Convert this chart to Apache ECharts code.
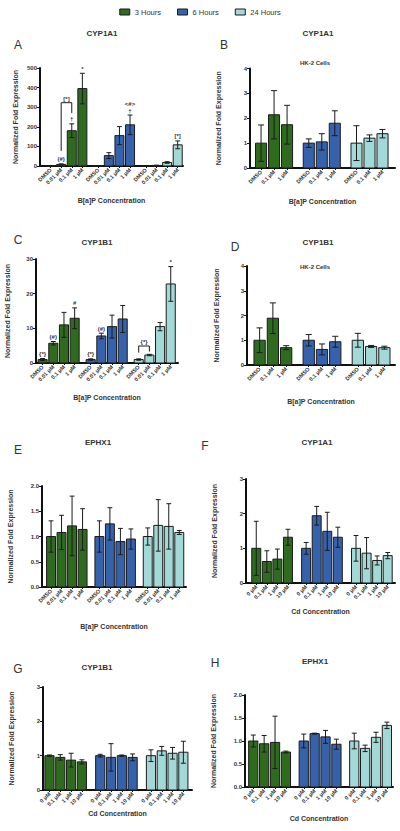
<!DOCTYPE html>
<html><head><meta charset="utf-8">
<script src="https://cdn.jsdelivr.net/npm/echarts@6/dist/echarts.min.js"></script>
<style>html,body{margin:0;padding:0;background:#fff}#c{width:400px;height:831px}</style>
</head><body><div id="c"></div>
<script>
// ---------- DATA ----------
const groups = ['3 Hours', '6 Hours', '24 Hours'];
const bapLabels4 = ['DMSO', '0.01 μM', '0.1 μM', '1 μM'];
const bapLabels3 = ['DMSO', '0.1 μM', '1 μM'];
const cdLabels = ['0 μM', '0.1 μM', '1 μM', '10 μM'];

// Panel A: CYP1A1, B[a]P
const A_mean = [[1, 8, 180, 395], [1, 53, 155, 210], [1, 3, 18, 108]];
const A_sd   = [[0.5, 3, 35, 78], [0.5, 15, 46, 50], [0.5, 1, 4, 20]];
const A_notes = [['', '(#)', '†', '*'], ['', '', '', '<#>\n†'], ['', '', '', '[*]']];
// Panel B: CYP1A1, HK-2
const B_mean = [[1.0, 2.14, 1.74], [1.0, 1.05, 1.8], [1.0, 1.2, 1.38]];
const B_sd   = [[0.73, 0.97, 0.78], [0.17, 0.33, 0.5], [0.7, 0.13, 0.17]];
// Panel C: CYP1B1, B[a]P
const C_mean = [[1, 5.7, 11.0, 12.9], [1, 7.8, 10.5, 12.7], [1, 2.3, 10.5, 22.8]];
const C_sd   = [[0.3, 0.5, 3.6, 3.0], [0.2, 0.8, 3.3, 3.9], [0.2, 0.2, 1.2, 5.0]];
const C_notes = [['{*}', '(#)', '', '#'], ['{*}', '(#)', '', ''], ['', '', '', '*']];
// Panel D: CYP1B1, HK-2
const D_mean = [[1.0, 1.89, 0.7], [1.0, 0.63, 0.94], [1.0, 0.75, 0.7]];
const D_sd   = [[0.5, 0.62, 0.08], [0.23, 0.22, 0.22], [0.28, 0.04, 0.06]];
// Panel E: EPHX1, B[a]P
const E_mean = [[1.0, 1.08, 1.21, 1.14], [1.0, 1.25, 0.9, 0.95], [1.0, 1.22, 1.2, 1.08]];
const E_sd   = [[0.31, 0.34, 0.59, 0.41], [0.31, 0.32, 0.26, 0.2], [0.17, 0.51, 0.45, 0.04]];
// Panel F: CYP1A1, Cd
const F_mean = [[1.0, 0.62, 0.69, 1.32], [1.0, 1.94, 1.49, 1.32], [1.0, 0.86, 0.65, 0.79]];
const F_sd   = [[0.78, 0.31, 0.29, 0.23], [0.17, 0.27, 0.55, 0.29], [0.37, 0.45, 0.13, 0.09]];
// Panel G: CYP1B1, Cd
const G_mean = [[1.0, 0.95, 0.87, 0.82], [1.0, 0.95, 1.0, 0.95], [1.0, 1.14, 1.07, 1.1]];
const G_sd   = [[0.02, 0.08, 0.2, 0.06], [0.04, 0.4, 0.02, 0.1], [0.17, 0.13, 0.17, 0.32]];
// Panel H: EPHX1, Cd
const H_mean = [[1.0, 0.94, 0.97, 0.76], [1.0, 1.16, 1.09, 0.93], [1.0, 0.84, 1.08, 1.34]];
const H_sd   = [[0.13, 0.18, 0.57, 0.02], [0.15, 0.01, 0.14, 0.11], [0.17, 0.07, 0.11, 0.07]];

// significance brackets: [group, fromIdx, toIdx, top, leftBottom, rightBottom, label]
const A_brackets = [[0, 1, 2, 323, 77, 270, '[*]']];
const C_brackets = [[2, 0, 1, 4.9, 3.0, 3.3, '{*}']];

// ---------- STYLE / LAYOUT ----------
const colors = ['#2f6b1f', '#3662ab', '#a2d9d6'];
const FONT = 'Liberation Sans, Arial, sans-serif';
const TXT = '#333333';
const yName = 'Normalized Fold Expression';
const bapName = 'B[a]P Concentration';
const cdName = 'Cd Concentration';

const panels = [
  {mean: A_mean, sd: A_sd, notes: A_notes, br: A_brackets, labels: bapLabels4, xName: bapName, ymax: 500, yint: 100, dec: 0,
   grid: {left: 40, top: 68, width: 143, height: 98}, off: 1, stride: 4.5, xmax: 13.5, yGap: 21, xGap: 31},
  {mean: B_mean, sd: B_sd, labels: bapLabels3, xName: bapName, ymax: 4, yint: 1, dec: 0,
   grid: {left: 250, top: 68.5, width: 145, height: 99.5}, off: 0.85, stride: 3.67, xmax: 11.15, yGap: 28, xGap: 30},
  {mean: C_mean, sd: C_sd, notes: C_notes, br: C_brackets, labels: bapLabels4, xName: bapName, ymax: 30, yint: 10, dec: 0,
   grid: {left: 36, top: 259, width: 142, height: 104}, off: 0.62, stride: 4.5, xmax: 13.3, yGap: 25, xGap: 31},
  {mean: D_mean, sd: D_sd, labels: bapLabels3, xName: bapName, ymax: 4, yint: 1, dec: 0,
   grid: {left: 247, top: 266, width: 148, height: 99}, off: 0.95, stride: 3.7, xmax: 11.15, yGap: 27, xGap: 33},
  {mean: E_mean, sd: E_sd, labels: bapLabels4, xName: bapName, ymax: 2, yint: 0.5, dec: 1,
   grid: {left: 42, top: 486, width: 144, height: 101}, off: 0.86, stride: 4.6, xmax: 13.7, yGap: 28, xGap: 36},
  {mean: F_mean, sd: F_sd, labels: cdLabels, xName: cdName, ymax: 3, yint: 1, dec: 0,
   grid: {left: 246, top: 479, width: 149, height: 104}, off: 0.97, stride: 4.72, xmax: 14.1, yGap: 28, xGap: 25},
  {mean: G_mean, sd: G_sd, labels: cdLabels, xName: cdName, ymax: 3, yint: 1, dec: 0,
   grid: {left: 43, top: 687, width: 149, height: 103}, off: 0.6, stride: 4.7, xmax: 13.8, yGap: 28, xGap: 20},
  {mean: H_mean, sd: H_sd, labels: cdLabels, xName: cdName, ymax: 2, yint: 0.5, dec: 1,
   grid: {left: 245, top: 695, width: 148, height: 92}, off: 0.76, stride: 4.64, xmax: 13.6, yGap: 28, xGap: 28}
];

const titles = [
  ['CYP1A1', 102, 33], ['CYP1A1', 318, 33], ['CYP1B1', 97, 242], ['CYP1B1', 318, 242],
  ['EPHX1', 98, 442], ['CYP1A1', 317, 442], ['CYP1B1', 97, 667], ['EPHX1', 315, 661]
];
const letters = [['A', 18, 45], ['B', 224, 45], ['C', 18, 240], ['D', 235, 247],
  ['E', 18, 450], ['F', 205, 446], ['G', 18, 669], ['H', 215, 663]];
const subs = [['HK-2 Cells', 315, 63], ['HK-2 Cells', 315, 267]];

const BARW = 0.85;
function pos(p, g, i) { return p.off + g * p.stride + i; }

function makeRender(p, g) {
  return function (params, api) {
    const x = api.value(0), m = api.value(1), s = api.value(2);
    const a = api.coord([x - BARW / 2, 0]);
    const b = api.coord([x + BARW / 2, m]);
    const t = api.coord([x, m + s]);
    const lo = api.coord([x, Math.max(0, m - s)]);
    const cx = api.coord([x, 0])[0];
    const cap = (b[0] - a[0]) * 0.27;
    const ls = {stroke: '#1b1b1b', lineWidth: 1};
    const ch = [
      {type: 'rect', shape: {x: a[0], y: b[1], width: b[0] - a[0], height: a[1] - b[1]},
       style: {fill: colors[g], stroke: '#1b1b1b', lineWidth: 1}},
      {type: 'line', shape: {x1: cx, y1: t[1], x2: cx, y2: lo[1]}, style: ls},
      {type: 'line', shape: {x1: cx - cap, y1: t[1], x2: cx + cap, y2: t[1]}, style: ls},
      {type: 'line', shape: {x1: cx - cap, y1: lo[1], x2: cx + cap, y2: lo[1]}, style: ls}
    ];
    const note = p.notes ? p.notes[g][params.dataIndex] : '';
    if (note) {
      ch.push({type: 'text', x: cx, y: t[1] - 1,
        style: {text: note, align: 'center', verticalAlign: 'bottom', fontSize: 6, lineHeight: 7,
          fontFamily: FONT, fontWeight: 'bold', fill: TXT}});
    }
    return {type: 'group', children: ch};
  };
}

function makeBracket(p) {
  return function (params, api) {
    const br = p.br[params.dataIndex];
    const x1 = pos(p, br[0], br[1]), x2 = pos(p, br[0], br[2]);
    const a = api.coord([x1, br[4]]), b = api.coord([x1, br[3]]);
    const c = api.coord([x2, br[3]]), d = api.coord([x2, br[5]]);
    return {type: 'group', children: [
      {type: 'polyline', shape: {points: [a, b, c, d]}, style: {stroke: '#1b1b1b', lineWidth: 1, fill: null}},
      {type: 'text', x: (b[0] + c[0]) / 2, y: b[1] - 1,
       style: {text: br[6], align: 'center', verticalAlign: 'bottom', fontSize: 6,
         fontFamily: FONT, fontWeight: 'bold', fill: TXT}}
    ]};
  };
}

const grid = [], xAxis = [], yAxis = [], series = [];
panels.forEach((p, k) => {
  grid.push(Object.assign({containLabel: false, outerBoundsMode: 'none'}, p.grid));
  const ticks = [], labelMap = {};
  for (let g = 0; g < 3; g++) p.labels.forEach((l, i) => {
    const v = pos(p, g, i); ticks.push(v); labelMap[v.toFixed(3)] = l;
  });
  xAxis.push({type: 'value', gridIndex: k, min: 0, max: p.xmax,
    axisLine: {show: true, onZero: false, lineStyle: {color: '#111', width: 2}},
    axisTick: {show: true, customValues: ticks, length: 2, lineStyle: {color: '#111', width: 1}},
    splitLine: {show: false},
    axisLabel: {customValues: ticks, rotate: 45, margin: 3, fontSize: 5.5, fontWeight: 'bold',
      fontFamily: FONT, color: TXT, formatter: v => labelMap[Number(v).toFixed(3)] || ''},
    name: p.xName, nameLocation: 'middle', nameGap: p.xGap,
    nameTextStyle: {fontSize: 7, fontWeight: 'bold', fontFamily: FONT, color: TXT}});
  yAxis.push({type: 'value', gridIndex: k, min: 0, max: p.ymax, interval: p.yint,
    axisLine: {show: true, lineStyle: {color: '#111', width: 2}},
    axisTick: {show: true, length: 3, lineStyle: {color: '#111', width: 1}},
    splitLine: {show: false},
    axisLabel: {fontSize: 6, margin: 3, fontWeight: 'bold', fontFamily: FONT, color: TXT,
      formatter: v => Number(v).toFixed(p.dec)},
    name: yName, nameLocation: 'middle', nameGap: p.yGap,
    nameTextStyle: {fontSize: 7, fontWeight: 'bold', fontFamily: FONT, color: TXT}});
  for (let g = 0; g < 3; g++) {
    series.push({type: 'custom', name: groups[g], xAxisIndex: k, yAxisIndex: k, silent: true,
      itemStyle: {color: colors[g], borderColor: '#1b1b1b', borderWidth: 1},
      encode: {x: 0, y: 1},
      data: p.mean[g].map((m, i) => [pos(p, g, i), m, p.sd[g][i]]),
      renderItem: makeRender(p, g)});
  }
  if (p.br) {
    series.push({type: 'custom', xAxisIndex: k, yAxisIndex: k, silent: true,
      data: p.br.map(b => [pos(p, b[0], b[1]), b[3]]), encode: {x: 0, y: 1},
      renderItem: makeBracket(p)});
  }
});

const graphic = [];
titles.forEach(t => graphic.push({type: 'text', x: t[1], y: t[2],
  style: {text: t[0], align: 'center', verticalAlign: 'middle', textAlign: 'center', textVerticalAlign: 'middle',
    fontSize: 8, fontWeight: 'bold', fontFamily: FONT, fill: TXT}}));
subs.forEach(t => graphic.push({type: 'text', x: t[1], y: t[2],
  style: {text: t[0], align: 'center', verticalAlign: 'middle', textAlign: 'center', textVerticalAlign: 'middle',
    fontSize: 6, fontWeight: 'bold', fontFamily: FONT, fill: TXT}}));
letters.forEach(t => graphic.push({type: 'text', x: t[1], y: t[2],
  style: {text: t[0], align: 'center', verticalAlign: 'middle', textAlign: 'center', textVerticalAlign: 'middle',
    fontSize: 12, fontWeight: 'normal', fontFamily: FONT, fill: TXT}}));

const chart = echarts.init(document.getElementById('c'), null, {renderer: 'svg'});
chart.setOption({
  animation: false,
  backgroundColor: '#fff',
  legend: {data: groups, top: 3, left: 'center', icon: 'rect', itemWidth: 10, itemHeight: 6, itemGap: 16,
    itemStyle: {borderColor: '#1b1b1b', borderWidth: 1},
    textStyle: {fontSize: 7.5, fontFamily: FONT, color: TXT}, selectedMode: false},
  grid, xAxis, yAxis, series, graphic
});
</script></body></html>
